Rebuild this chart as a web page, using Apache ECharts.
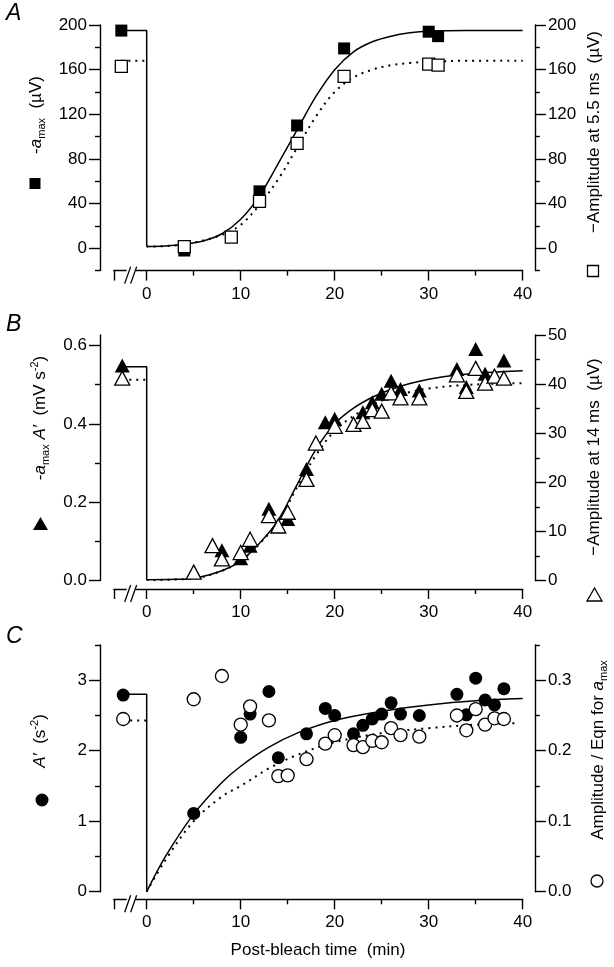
<!DOCTYPE html>
<html><head><meta charset="utf-8">
<script src="https://cdn.jsdelivr.net/npm/echarts@6/dist/echarts.min.js"></script>
<style>html,body{margin:0;padding:0;background:#fff}#c{width:614px;height:967px}</style>
</head><body><div id="c"></div>
<script>
// ---------- DATA ----------
const xMajorTicks = [-3.5, 0, 10, 20, 30, 40];
const xLabels = [0, 10, 20, 30, 40];
const xMinorTicks = [5, 15, 25, 35];

// Panel A (µV)
const aFilled = [[-2.7,195],[4,-2],[12,51],[16,110],[21,179],[30,194],[31,190]];
const aOpen   = [[-2.7,163],[4,1.5],[9,10],[12,42],[16,94],[21,154],[30,165],[31,164]];
const aSolidPre = [[-2.7,195],[0,195],[0,1.5]];
const aSolidFit = [[0,1.5],[2,2],[4,3.5],[6,6.5],[8,13],[10,26],[12,47],[14,76],[16,106],[18,136],[20,160],[22,176],[24,185],[26,190],[28,193],[30,194.5],[34,195],[40,195]];
const aDotPre = [[-2.7,168],[0,168]];
const aDotFit = [[0,1.5],[4,3.5],[8,12],[10,21],[12,39],[14,62],[16,90],[18,118],[20,140],[22,153],[24,160],[26,164],[28,166],[30,167],[34,168],[40,168]];
const aLeftLabels = [0,40,80,120,160,200];
const aLeftMinor = [-20,20,60,100,140,180];

// Panel B (left mV s^-2, right µV)
const bFilled = [[-2.6,0.549],[8,0.077],[10,0.057],[11,0.089],[13,0.183],[15,0.157],[17,0.285],[19,0.404],[20,0.413],[23,0.43],[24,0.455],[25,0.477],[26,0.51],[27,0.489],[29,0.485],[33,0.54],[34,0.494],[35,0.591],[36,0.528],[38,0.562]];
const bOpen = [[-2.6,41.2],[5,1.7],[7,7.1],[8,4.4],[10,5.7],[11,8.4],[13,13.2],[14,11.1],[15,13.9],[17,20.6],[18,28.0],[20,31.4],[22,31.8],[23,32.4],[24,34.8],[25,34.5],[26,38.2],[27,37.2],[29,37.2],[33,41.9],[34,38.5],[35,43.2],[36,40.2],[37,41.6],[38,41.2]];
const bSolidPre = [[-2.6,0.546],[0,0.546],[0,0.002]];
const bSolidFit = [[0,0.002],[3,0.003],[5,0.006],[8,0.025],[10,0.05],[12,0.095],[14,0.155],[16,0.245],[18,0.335],[20,0.4],[22,0.44],[24,0.468],[26,0.488],[28,0.503],[30,0.514],[33,0.525],[36,0.531],[40,0.536]];
const bDotPre = [[-2.6,40.9],[0,40.9]];
const bDotFit = [[0,0.1],[5,0.4],[8,2],[10,4],[12,7.5],[14,12],[16,19],[18,25.5],[20,30.5],[22,33.5],[24,35.8],[26,37.3],[28,38.4],[30,39.1],[33,39.7],[36,40],[40,40.2]];
const bLeftLabels = [0,0.2,0.4,0.6];
const bLeftMinor = [0.1,0.3,0.5];
const bRightLabels = [0,10,20,30,40,50];
const bRightMinor = [5,15,25,35,45];

// Panel C (left s^-2, right ratio)
const cFilled = [[-2.5,2.79],[5,1.11],[10,2.19],[11,2.52],[13,2.84],[14,1.9],[17,2.24],[19,2.6],[20,2.5],[22,2.24],[23,2.36],[24,2.45],[25,2.52],[26,2.68],[27,2.52],[29,2.5],[33,2.8],[34,2.51],[35,3.03],[36,2.72],[37,2.65],[38,2.88]];
const cOpen = [[-2.5,0.245],[5,0.273],[8,0.306],[10,0.237],[11,0.263],[13,0.243],[14,0.164],[15,0.165],[17,0.188],[19,0.21],[20,0.222],[22,0.208],[23,0.205],[24,0.214],[25,0.212],[26,0.232],[27,0.222],[29,0.22],[33,0.25],[34,0.229],[35,0.259],[36,0.237],[37,0.246],[38,0.245]];
const cSolidPre = [[-2.5,2.8],[0,2.8],[0,0]];
const cSolidFit = [[0,0],[2,0.5],[5,1.1],[8,1.55],[10,1.78],[13,2.05],[16,2.25],[20,2.43],[25,2.56],[30,2.65],[35,2.71],[40,2.74]];
const cDotPre = [[-2.5,0.243],[0,0.243]];
const cDotFit = [[0,0],[2,0.045],[5,0.1],[8,0.135],[10,0.15],[13,0.175],[16,0.194],[20,0.212],[25,0.225],[30,0.232],[35,0.237],[39.5,0.239]];
const cLeftLabels = [0,1,2,3];
const cLeftMinor = [0.5,1.5,2.5,3.5];
const cRightLabels = [0,0.1,0.2,0.3];
const cRightMinor = [0.05,0.15,0.25,0.35];

// ---------- LAYOUT ----------
const FONT = '"Liberation Sans", Arial, Helvetica, sans-serif';
const X_MIN = -3.5, X_MAX = 40;
const GL = 113.8, GW = 408.9;
const panels = [
  {top:25,  height:245.6, xOff:0,   lMin:-20, lMax:200,   rMin:-20, rMax:200,
   lLab:aLeftLabels, lMin2:aLeftMinor, rLab:aLeftLabels, rMin2:aLeftMinor, lFmt:v=>String(v), rFmt:v=>String(v)},
  {top:335, height:245.5, xOff:8.5, lMin:0, lMax:0.627, rMin:0, rMax:50,
   lLab:bLeftLabels, lMin2:bLeftMinor, rLab:bRightLabels, rMin2:bRightMinor, lFmt:v=>v.toFixed(1), rFmt:v=>String(v)},
  {top:645, height:246.7, xOff:7.6, lMin:0, lMax:3.5, rMin:0, rMax:0.35,
   lLab:cLeftLabels, lMin2:cLeftMinor, rLab:cRightLabels, rMin2:cRightMinor, lFmt:v=>String(v), rFmt:v=>v.toFixed(1)}
];
const LOFF = 13.8, ROFF = 12.2;
const axisLineStyle = {color:'#000', width:1.4};
const labelStyle = {color:'#000', fontSize:17, fontFamily:FONT};

const grid = [], xAxis = [], yAxis = [];
panels.forEach((p, i) => {
  grid.push({left:GL, width:GW, top:p.top, height:p.height, containLabel:false});
  xAxis.push({type:'value', gridIndex:i, min:X_MIN, max:X_MAX, position:'bottom', offset:p.xOff,
    axisLine:{show:true, onZero:false, lineStyle:axisLineStyle},
    axisTick:{show:true, customValues:xMajorTicks, length:10, lineStyle:axisLineStyle},
    axisLabel:{show:true, customValues:xLabels, margin:15, ...labelStyle},
    splitLine:{show:false}});
  xAxis.push({type:'value', gridIndex:i, min:X_MIN, max:X_MAX, position:'bottom', offset:p.xOff,
    axisLine:{show:false, onZero:false},
    axisTick:{show:true, customValues:xMinorTicks, length:5, lineStyle:axisLineStyle},
    axisLabel:{show:false}, splitLine:{show:false}});
  const mk = (pos, min, max, ticks, len, labels, fmt, line) => ({
    type:'value', gridIndex:i, position:pos, min, max, offset: pos==='left'?LOFF:ROFF,
    axisLine:{show:line, onZero:false, lineStyle:axisLineStyle},
    axisTick:{show:true, customValues:ticks, length:len, lineStyle:axisLineStyle},
    axisLabel: labels ? {show:true, customValues:labels, formatter:fmt, margin:13, ...labelStyle} : {show:false},
    splitLine:{show:false}});
  yAxis.push(mk('left', p.lMin, p.lMax, p.lLab, 11, p.lLab, p.lFmt, true));
  yAxis.push(mk('left', p.lMin, p.lMax, p.lMin2, 5, null, null, false));
  yAxis.push(mk('right', p.rMin, p.rMax, p.rLab, 11, p.rLab, p.rFmt, true));
  yAxis.push(mk('right', p.rMin, p.rMax, p.rMin2, 5, null, null, false));
});

const series = [];
function line(i, right, data, dotted, smooth) {
  series.push({type:'line', xAxisIndex:2*i, yAxisIndex:4*i+(right?2:0), data, smooth: smooth?0.35:false,
    symbol:'none', silent:true, z:2,
    lineStyle:{color:'#000', width: dotted?2:1.5, type: dotted?[2,5]:'solid'}});
}
function scatter(i, right, data, symbol, size, filled) {
  series.push({type:'scatter', xAxisIndex:2*i, yAxisIndex:4*i+(right?2:0), data, symbol, symbolSize:size, z: filled?3:4,
    itemStyle: filled ? {color:'#000', opacity:1} : {color:'#fff', borderColor:'#000', borderWidth:1.3, opacity:1}});
}
// A
line(0,false,aSolidPre,false,false); line(0,false,aSolidFit,false,true);
line(0,true,aDotPre,true,false); line(0,true,aDotFit,true,true);
scatter(0,false,aFilled,'rect',12,true); scatter(0,true,aOpen,'rect',12,false);
// B
line(1,false,bSolidPre,false,false); line(1,false,bSolidFit,false,true);
line(1,true,bDotPre,true,false); line(1,true,bDotFit,true,true);
scatter(1,false,bFilled,'triangle',[15,14],true); scatter(1,true,bOpen,'triangle',[15,14],false);
// C
line(2,false,cSolidPre,false,false); line(2,false,cSolidFit,false,true);
line(2,true,cDotPre,true,false); line(2,true,cDotFit,true,true);
scatter(2,false,cFilled,'circle',13,true); scatter(2,true,cOpen,'circle',13,false);

// ---------- TEXT / DECORATION ----------
const rich = {
  n:{fontSize:17, fontFamily:FONT, lineHeight:22, fill:'#000'},
  i:{fontSize:17, fontFamily:FONT, fontStyle:'italic', lineHeight:22, fill:'#000'},
  sb:{fontSize:11, fontFamily:FONT, lineHeight:10, verticalAlign:'bottom', fill:'#000'},
  sp:{fontSize:11, fontFamily:FONT, lineHeight:10, verticalAlign:'top', fill:'#000'}
};
function vtext(x, y, text) {
  return {type:'text', x, y, rotation:Math.PI/2, z:10,
    style:{text, rich, fontSize:17, fontFamily:FONT, fill:'#000', align:'center', verticalAlign:'middle'}};
}
function letter(x, y, t) {
  return {type:'text', x, y, z:10, style:{text:t, fontSize:23, fontStyle:'italic', fontFamily:FONT, fill:'#000', align:'left', verticalAlign:'middle'}};
}
const graphic = [
  letter(6, 14, 'A'), letter(6, 325, 'B'), letter(6, 637, 'C'),
  vtext(36, 115, '{n|-}{i|a}{sb|max}{n|  (µV)}'),
  vtext(594, 132, '{n|−Amplitude at 5.5 ms  (µV)}'),
  vtext(40, 418, '{n|-}{i|a}{sb|max}{n| }{i|A′}{n|  (mV s}{sp|-2}{n|)}'),
  vtext(594, 457, '{n|−Amplitude at 14 ms  (µV)}'),
  vtext(40, 741, '{i|A′}{n|  (s}{sp|-2}{n|)}'),
  vtext(598, 750, '{n|Amplitude / Eqn for }{i|a}{sb|max}'),
  {type:'text', x:318, y:950, z:10, style:{text:'Post-bleach time  (min)', fontSize:17, fontFamily:FONT, fill:'#000', align:'center', verticalAlign:'middle'}},
  // legend glyphs
  {type:'rect', shape:{x:29.5, y:178, width:11, height:11}, style:{fill:'#000'}},
  {type:'rect', shape:{x:587.5, y:265.5, width:11, height:11}, style:{fill:'#fff', stroke:'#000', lineWidth:1.3}},
  {type:'polygon', shape:{points:[[33,530],[48,530],[40.5,517]]}, style:{fill:'#000'}},
  {type:'polygon', shape:{points:[[587,601],[602,601],[594.5,588]]}, style:{fill:'#fff', stroke:'#000', lineWidth:1.3}},
  {type:'circle', shape:{cx:42, cy:800, r:6.5}, style:{fill:'#000'}},
  {type:'circle', shape:{cx:597, cy:881, r:6}, style:{fill:'#fff', stroke:'#000', lineWidth:1.3}}
];

const chart = echarts.init(document.getElementById('c'), null, {renderer:'canvas'});
chart.setOption({animation:false, backgroundColor:'#fff', grid, xAxis, yAxis, series, graphic});

// axis break marks "//" on each x axis
const breakX = -1.6;
panels.forEach((p, i) => {
  const px = chart.convertToPixel({xAxisIndex:2*i}, breakX);
  const ay = p.top + p.height + p.xOff;
  graphic.push({type:'rect', shape:{x:px-5, y:ay-2, width:9, height:4}, style:{fill:'#fff'}, z:20});
  graphic.push({type:'line', shape:{x1:px-7, y1:ay+13, x2:px-1, y2:ay-4}, style:{stroke:'#000', lineWidth:1.3}, z:21});
  graphic.push({type:'line', shape:{x1:px-1, y1:ay+13, x2:px+5, y2:ay-4}, style:{stroke:'#000', lineWidth:1.3}, z:21});
});
chart.setOption({graphic});
</script></body></html>
